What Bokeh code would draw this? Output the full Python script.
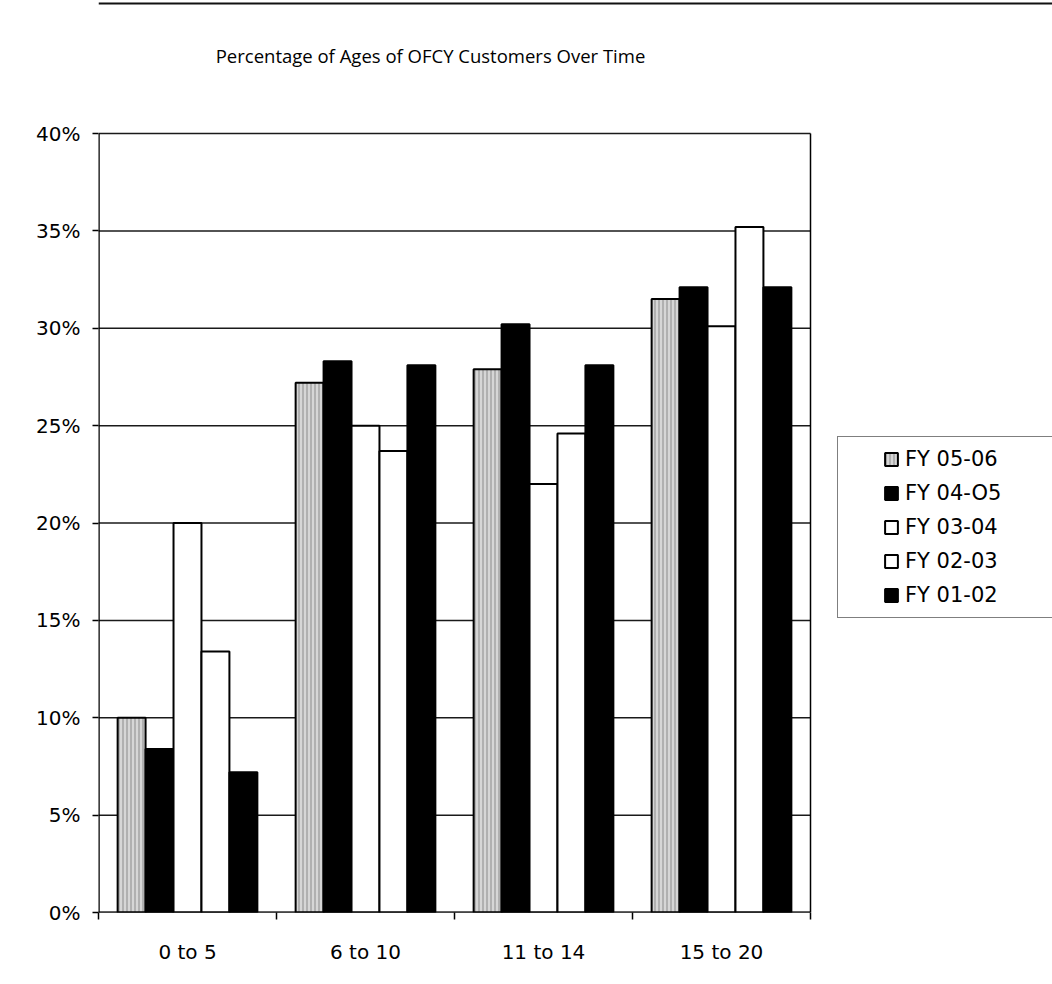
from bokeh.plotting import figure
from bokeh.models import (ColumnDataSource, FixedTicker, Legend, LegendItem,
                          Range1d, Label, Span)
from bokeh.transform import dodge
from bokeh.embed import file_html
from bokeh.resources import INLINE

# Age groups and yearly shares (percent of customers)
categories = ["0 to 5", "6 to 10", "11 to 14", "15 to 20"]
series_names = ["FY 05-06", "FY 04-O5", "FY 03-04", "FY 02-03", "FY 01-02"]
fy_05_06 = [10.0, 27.2, 27.9, 31.5]
fy_04_05 = [8.4, 28.3, 30.2, 32.1]
fy_03_04 = [20.0, 25.0, 22.0, 30.1]
fy_02_03 = [13.4, 23.7, 24.6, 35.2]
fy_01_02 = [7.2, 28.1, 28.1, 32.1]
y_ticks = [0, 5, 10, 15, 20, 25, 30, 35, 40]

series_values = [fy_05_06, fy_04_05, fy_03_04, fy_02_03, fy_01_02]
n_cat = len(categories)
y_max = max(y_ticks)
centers = [i + 0.5 for i in range(n_cat)]

source = ColumnDataSource(dict(
    x=centers,
    **{f"s{i}": vals for i, vals in enumerate(series_values)},
))

FONT = "DejaVu Sans"
W, H = 1052, 984
LEFT, BOTTOM = 98, 72
PLOT_RIGHT, PLOT_TOP = 810, 133     # bar area edges, in pixels
BASE = H - BOTTOM                   # pixel row of the 0% line

# the frame covers everything right of the y axis, so the title and legend
# can live in it; the bar area itself is outlined with segments
x_end = n_cat * (W - LEFT) / (PLOT_RIGHT - LEFT)
px_per_unit = (BASE - PLOT_TOP) / y_max
y_end = BASE / px_per_unit

def y_at(py):
    """data y for a pixel row measured from the top of the page"""
    return (BASE - py) / px_per_unit

def x_at(px):
    return (px - LEFT) * n_cat / (PLOT_RIGHT - LEFT)

p = figure(width=W, height=H, output_backend="svg", toolbar_location=None,
           x_range=Range1d(0, x_end), y_range=Range1d(0, y_end),
           min_border_left=LEFT, min_border_right=0,
           min_border_top=0, min_border_bottom=BOTTOM,
           background_fill_color="white", border_fill_color="white")
p.outline_line_color = None
p.xgrid.visible = False
p.ygrid.visible = False

# page rule along the top edge
p.add_layout(Span(location=y_at(3), dimension="width",
                  line_color="#111111", line_width=2))

p.add_layout(Label(x=x_at(430), y=y_at(55),
                   text="Percentage of Ages of OFCY Customers Over Time",
                   text_align="center", text_baseline="middle",
                   text_font="Open Sans", text_font_size="18.5px",
                   text_color="black"))

# horizontal gridlines every 5% across the bar area, plus its right edge
p.segment(x0=0, x1=n_cat, y0=y_ticks, y1=y_ticks,
          line_color="#1a1a1a", line_width=1.5)
p.segment(x0=n_cat, x1=n_cat, y0=0, y1=y_max,
          line_color="black", line_width=1.5)

# bar styles: stippled grey, black, white, white, black
styles = [
    dict(fill_color="#d6d6d6", hatch_pattern="|", hatch_color="#8a8a8a",
         hatch_scale=4, hatch_weight=1),
    dict(fill_color="black"),
    dict(fill_color="white"),
    dict(fill_color="white"),
    dict(fill_color="black"),
]

bar_w = 0.157
renderers = []
for i, st in enumerate(styles):
    r = p.vbar(x=dodge("x", (i - 2) * bar_w, range=p.x_range), top=f"s{i}",
               width=bar_w, bottom=0, source=source,
               line_color="black", line_width=2, **st)
    renderers.append(r)

# axis lines of the bar area
p.segment(x0=0, x1=n_cat, y0=0, y1=0, line_color="black", line_width=2)
p.segment(x0=0, x1=0, y0=0, y1=y_max, line_color="black", line_width=2.5)

# y axis: percentages
p.yaxis.ticker = FixedTicker(ticks=y_ticks)
p.yaxis.major_label_overrides = {t: f"{t}%" for t in y_ticks}
p.yaxis.major_tick_out = 6
p.yaxis.major_tick_in = 0
p.yaxis.minor_tick_out = 0
p.yaxis.minor_tick_in = 0
p.yaxis.major_label_standoff = 12
p.yaxis.axis_line_color = None
p.yaxis.major_tick_line_color = "black"
p.yaxis.major_tick_line_width = 1.5

# x axis: labels in the middle of each group, ticks on group boundaries
p.xaxis.ticker = FixedTicker(ticks=centers, minor_ticks=list(range(n_cat + 1)))
p.xaxis.major_label_overrides = {c: lab for c, lab in zip(centers, categories)}
p.xaxis.major_tick_out = 0
p.xaxis.major_tick_in = 0
p.xaxis.minor_tick_out = 7
p.xaxis.minor_tick_in = 0
p.xaxis.minor_tick_line_color = "black"
p.xaxis.minor_tick_line_width = 1.5
p.xaxis.major_label_standoff = 20
p.xaxis.axis_line_color = None

for ax in (p.xaxis, p.yaxis):
    ax.major_label_text_font = FONT
    ax.major_label_text_font_size = "20px"
    ax.major_label_text_color = "black"

# legend beside the bar area; the blank left title leaves room
# between the box edge and the swatches
legend = Legend(
    items=[LegendItem(label=name, renderers=[r])
           for name, r in zip(series_names, renderers)],
    location=(837 - LEFT, BASE - 618), margin=0, padding=10, spacing=10,
    glyph_width=16, glyph_height=16, label_height=20, label_standoff=6,
    label_width=150,
    label_text_font=FONT, label_text_font_size="21px",
    label_text_color="black",
    title=" ", title_location="left", title_text_font_size="10px",
    title_standoff=24,
    border_line_color="black", border_line_width=1.5,
    background_fill_color="white", background_fill_alpha=1,
)
p.add_layout(legend)

open("out.html", "w").write(file_html(p, INLINE))
